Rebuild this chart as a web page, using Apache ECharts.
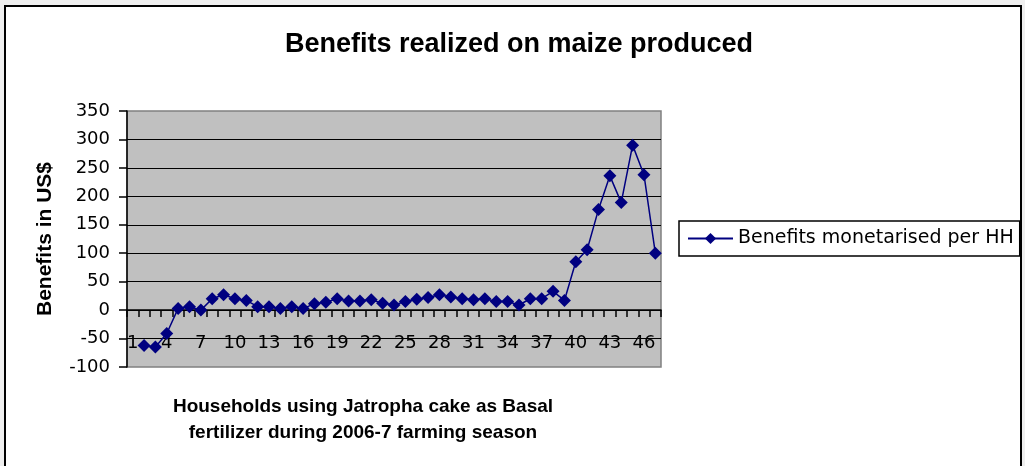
<!DOCTYPE html>
<html>
<head>
<meta charset="utf-8">
<title>Benefits realized on maize produced</title>
<script src="https://cdn.jsdelivr.net/npm/echarts@6/dist/echarts.min.js"></script>
<style>
  html, body { margin: 0; padding: 0; background: #efefef; }
  #main { width: 1025px; height: 466px; }
</style>
</head>
<body>
<div id="main"></div>
<script>
// household numbers on the category axis (first slot has no value)
var households = ['1','2','3','4','5','6','7','8','9','10','11','12','13','14','15','16',
  '17','18','19','20','21','22','23','24','25','26','27','28','29','30','31','32',
  '33','34','35','36','37','38','39','40','41','42','43','44','45','46','47']
// benefits in US$
var benefits = ['-', -62, -65, -41, 3, 6, 0, 20, 27, 20, 17, 6, 6, 3, 6, 3, 11, 14, 20, 16, 16,
  18, 12, 9, 15, 19, 22, 27, 23, 20, 18, 20, 15, 15, 9, 20, 20, 33, 17, 85, 106,
  177, 236, 189, 290, 238, 100]
var seriesName = 'Benefits monetarised per HH'

var myChart = echarts.init(document.getElementById('main'))

var option = {
  backgroundColor: 'transparent',
  animation: false,
  title: [
    {
      text: 'Benefits realized on maize produced',
      left: 519,
      top: 31,
      padding: 0,
      textAlign: 'center',
      textStyle: { fontFamily: 'Liberation Sans', fontSize: 27, fontWeight: 'bold', color: '#000' }
    },
    {
      text: 'Households using Jatropha cake as Basal\nfertilizer during 2006-7 farming season',
      left: 363,
      top: 394,
      padding: 0,
      textAlign: 'center',
      textStyle: { fontFamily: 'Liberation Sans', fontSize: 19, fontWeight: 'bold', lineHeight: 26, color: '#000' }
    }
  ],
  graphic: [
    {
      type: 'rect',
      z: -10,
      shape: { x: 5, y: 6, width: 1016, height: 470 },
      style: { fill: '#fff', stroke: '#000', lineWidth: 2 }
    }
  ],
  legend: {
    data: [seriesName],
    left: 679,
    top: 221,
    orient: 'vertical',
    padding: [8, 6, 8, 8],
    borderColor: '#000',
    borderWidth: 1.5,
    backgroundColor: '#fff',
    itemWidth: 45,
    itemHeight: 14,
    textStyle: { fontFamily: 'DejaVu Sans', fontSize: 19, color: '#000' }
  },
  grid: {
    left: 127,
    top: 111,
    width: 534,
    height: 256,
    show: true,
    backgroundColor: '#c0c0c0',
    borderColor: '#808080',
    borderWidth: 1.5,
    containLabel: false,
    outerBoundsMode: 'none'
  },
  xAxis: {
    type: 'category',
    data: households,
    boundaryGap: true,
    position: 'bottom',
    // axis line sits on the zero line, labels just under it inside the plot
    offset: -56.9,
    axisLine: { onZero: false, lineStyle: { color: '#000', width: 1.5 } },
    axisTick: { show: true, interval: 0, length: 7, lineStyle: { color: '#000', width: 1.5 } },
    axisLabel: {
      interval: 2,
      margin: 24,
      fontFamily: 'DejaVu Sans',
      fontSize: 18,
      color: '#000'
    },
    splitLine: { show: false }
  },
  yAxis: {
    type: 'value',
    min: -100,
    max: 350,
    interval: 50,
    name: 'Benefits in US$',
    nameLocation: 'middle',
    nameGap: 71,
    nameTextStyle: { fontFamily: 'Liberation Sans', fontSize: 21, fontWeight: 'bold', color: '#000' },
    axisLine: { show: true, lineStyle: { color: '#000', width: 1.5 } },
    axisTick: { show: true, length: 8, lineStyle: { color: '#000', width: 1.5 } },
    axisLabel: { margin: 17, fontFamily: 'DejaVu Sans', fontSize: 18, color: '#000' },
    splitLine: {
      show: true,
      showMinLine: false,
      showMaxLine: false,
      lineStyle: { color: '#000', width: 1.2 }
    }
  },
  series: [
    {
      name: seriesName,
      type: 'line',
      data: benefits,
      symbol: 'diamond',
      symbolSize: 13,
      showAllSymbol: true,
      lineStyle: { color: '#000080', width: 1.5 },
      itemStyle: { color: '#000080', borderWidth: 0 }
    }
  ]
}

myChart.setOption(option)
</script>
</body>
</html>
